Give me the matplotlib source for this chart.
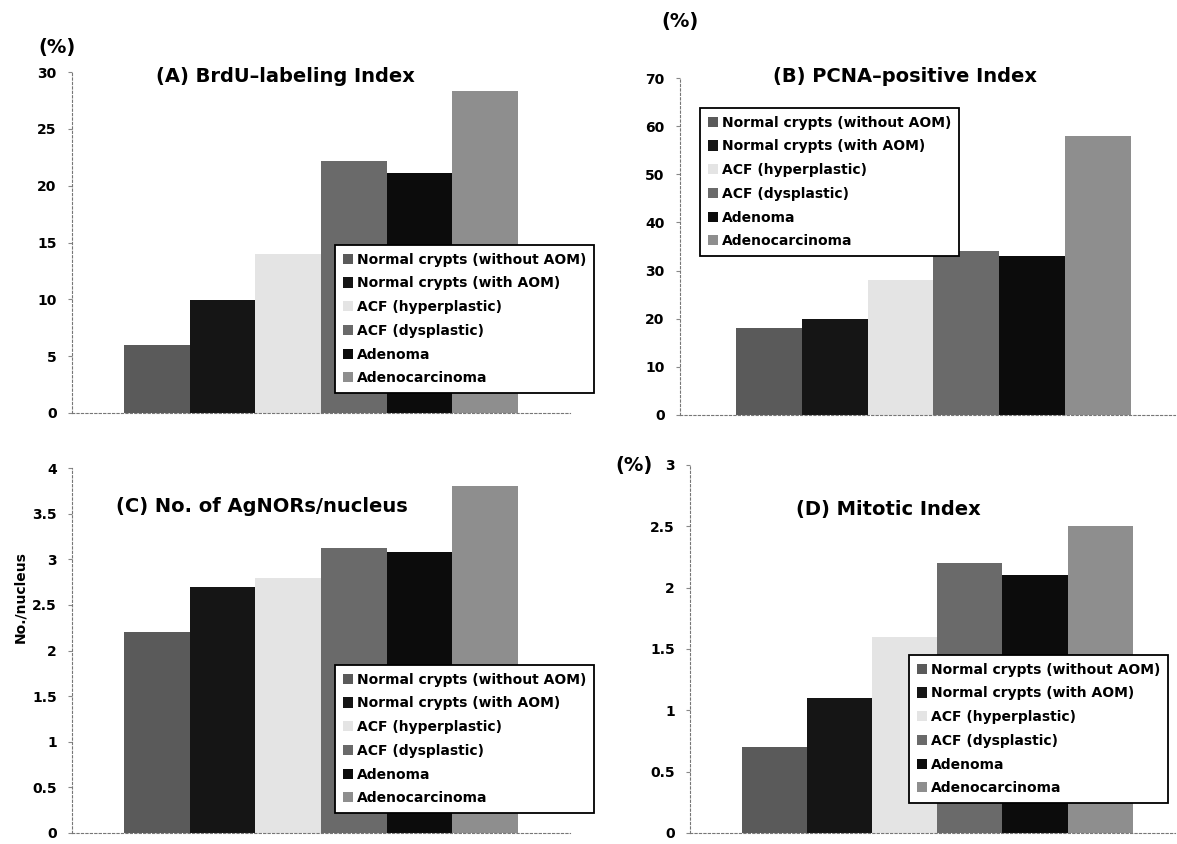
import numpy as np
import matplotlib
matplotlib.use('Agg')
import matplotlib.pyplot as plt

groups = ['Normal crypts (without AOM)', 'Normal crypts (with AOM)', 'ACF (hyperplastic)',
          'ACF (dysplastic)', 'Adenoma', 'Adenocarcinoma']
brdu = [6.0, 9.9, 14.0, 22.2, 21.1, 28.3]
pcna = [18.0, 20.0, 28.0, 34.0, 33.0, 58.0]
agnor = [2.2, 2.7, 2.8, 3.12, 3.08, 3.8]
mitotic = [0.7, 1.1, 1.6, 2.2, 2.1, 2.5]

colors = ['#5a5a5a', '#151515', '#e4e4e4', '#6a6a6a', '#0c0c0c', '#8e8e8e']

W, H = 1177, 844
fig = plt.figure(figsize=(W / 100, H / 100), dpi=100)
plt.rcParams['font.family'] = ['DejaVu Sans']


def px_axes(l, r, top, bottom):
    return fig.add_axes([l / W, 1 - bottom / H, (r - l) / W, (bottom - top) / H])


def panel(ax, vals, ymax, step, title, title_xy, leg_xy, gaps):
    x = np.arange(len(vals))
    for i in range(len(vals)):
        ax.bar(x[i], vals[i], width=1.0, color=colors[i], label=groups[i],
               edgecolor='none')
    ax.set_xlim(-0.5 - gaps[0], len(vals) - 0.5 + gaps[1])
    ax.set_ylim(0, ymax)
    ticks = np.arange(0, ymax + step / 2, step)
    ax.set_yticks(ticks)
    ax.set_yticklabels(['%g' % t for t in ticks], fontsize=10, fontweight='bold')
    ax.set_xticks([])
    for s in ['top', 'right']:
        ax.spines[s].set_visible(False)
    for s in ['left', 'bottom']:
        ax.spines[s].set_color('#777777')
        ax.spines[s].set_linestyle((0, (2, 2)))
        ax.spines[s].set_linewidth(0.8)
    ax.tick_params(axis='y', length=3, color='#888888', pad=8)
    fig.text(title_xy[0] / W, 1 - title_xy[1] / H, title, fontsize=14,
             fontweight='bold', ha='center', va='center')
    leg = ax.legend(loc='upper left', bbox_to_anchor=(leg_xy[0] / W, 1 - leg_xy[1] / H),
                    bbox_transform=fig.transFigure,
                    prop={'weight': 'bold', 'size': 10}, frameon=True, fancybox=False,
                    framealpha=1, handlelength=0.75, handleheight=0.75, handletextpad=0.3,
                    labelspacing=0.7, borderpad=0.55, borderaxespad=0)
    leg.get_frame().set_edgecolor('black')
    leg.get_frame().set_linewidth(1.3)
    return ax


axA = px_axes(72, 570, 72, 413)
panel(axA, brdu, 30, 5, '(A) BrdU\u2013labeling Index', (285, 76), (335, 245), (0.79, 0.79))
fig.text(57 / W, 1 - 47 / H, '(%)', fontsize=14, fontweight='bold', ha='center', va='center')

axB = px_axes(680, 1175, 78, 415)
panel(axB, pcna, 70, 10, '(B) PCNA\u2013positive Index', (905, 76), (700, 108), (0.85, 0.67))
fig.text(680 / W, 1 - 22 / H, '(%)', fontsize=14, fontweight='bold', ha='center', va='center')

axC = px_axes(72, 570, 468, 833)
panel(axC, agnor, 4, 0.5, '(C) No. of AgNORs/nucleus', (262, 506), (335, 665), (0.79, 0.79))
fig.text(20 / W, 1 - 597 / H, 'No./nucleus', fontsize=10, fontweight='bold',
         rotation=90, ha='center', va='center')

axD = px_axes(690, 1175, 465, 833)
panel(axD, mitotic, 3, 0.5, '(D) Mitotic Index', (888, 510), (909, 655), (0.8, 0.65))
fig.text(634 / W, 1 - 465 / H, '(%)', fontsize=14, fontweight='bold', ha='center', va='center')

fig.savefig('out.png', dpi=100)
